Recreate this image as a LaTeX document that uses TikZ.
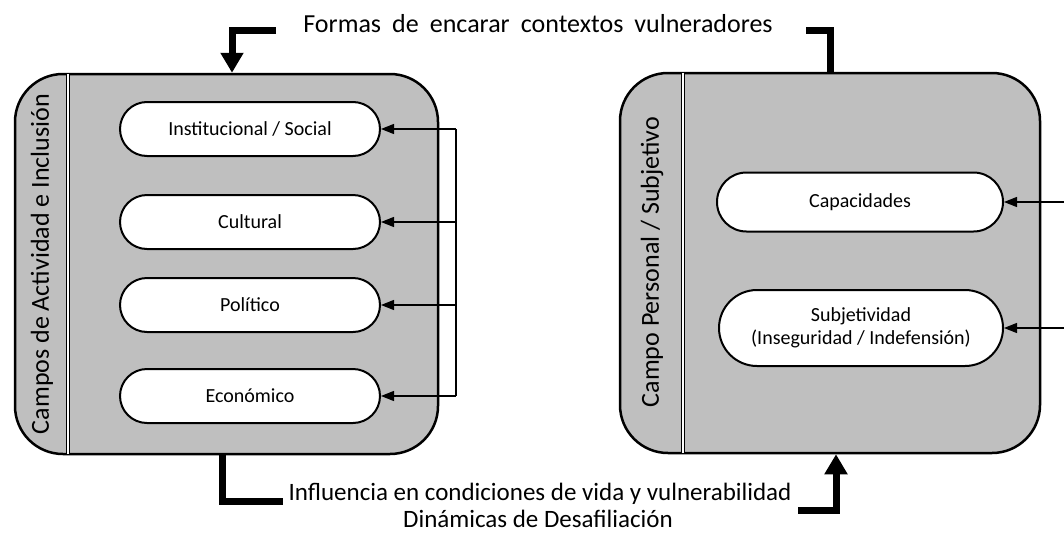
\documentclass[tikz,border=0pt]{standalone}
\usepackage{fontspec}
\setmainfont{Carlito}
\usetikzlibrary{arrows.meta,shapes.misc}
\begin{document}
\begin{tikzpicture}[x=1pt,y=-1pt,
  field/.style={draw=black, line width=2.5pt, fill=black!25, rounded corners=48pt, inner sep=0pt},
  pill/.style={rounded rectangle, draw=black, line width=2pt, fill=white, inner sep=2pt, align=center, font=\fontsize{20}{23}\selectfont},
  sidelabel/.style={rotate=90, font=\fontsize{26}{30}\selectfont},
  caption/.style={font=\fontsize{25}{29}\selectfont},
  sep/.style={draw=black, double=white, double distance=2.2pt, line width=0.9pt},
  link/.style={draw=black, line width=1.3pt, -{Triangle[length=13pt,width=10pt]}},
  bigL/.style={draw=black, line width=7pt},
  bigarrow/.style={bigL, -{Triangle[length=20pt,width=22pt]}}
]
\useasboundingbox (0,0) rectangle (1064,533);

% fields
\node[field, minimum width=423pt, minimum height=380pt] (L) at (226.5,264) {};
\node[field, minimum width=420pt, minimum height=380pt] (R) at (830,263) {};

% separators
\coordinate (sl) at (68,0);
\coordinate (sr) at (683,0);
\draw[sep] ([yshift=-1.2pt]sl |- L.north) -- ([yshift=1.2pt]sl |- L.south);
\draw[sep] ([yshift=-1.2pt]sr |- R.north) -- ([yshift=1.2pt]sr |- R.south);

% side labels
\node[sidelabel] (Llab) at (42,264) {Campos de Actividad e Inclusión};
\node[sidelabel] (Rlab) at (652,262) {Campo Personal / Subjetivo};

% pills left
\node[pill, minimum width=264pt, minimum height=54pt] (inst) at (250,129) {Institucional / Social};
\node[pill, minimum width=264pt, minimum height=54pt] (cult) at (250,222) {Cultural};
\node[pill, minimum width=264pt, minimum height=54pt] (pol) at (250,305) {Político};
\node[pill, minimum width=264pt, minimum height=54pt] (eco) at (250,396) {Económico};

% pills right
\node[pill, minimum width=290pt, minimum height=59pt] (cap) at (860,202) {Capacidades};
\node[pill, minimum width=288pt, minimum height=76pt] (subj) at (861,328) {Subjetividad\\(Inseguridad / Indefensión)};

% left bracket connectors
\coordinate (vx) at (456,0);
\draw[line width=1.3pt] (vx |- inst.east) -- (vx |- eco.east);
\draw[link] (vx |- inst.east) -- (inst.east);
\draw[link] (vx |- cult.east) -- (cult.east);
\draw[link] (vx |- pol.east) -- (pol.east);
\draw[link] (vx |- eco.east) -- (eco.east);

% right connectors from the edge
\coordinate (ex) at (1064,0);
\draw[link] (ex |- cap.east) -- (cap.east);
\draw[link] (ex |- subj.east) -- (subj.east);

% top caption and thick connectors
\node[font=\fontsize{26}{30}\selectfont] (top) at (538,24) {Formas\hspace{0.2em} de\hspace{0.2em} encarar\hspace{0.2em} contextos\hspace{0.2em} vulneradores};
\coordinate (tla) at (276,30);
\coordinate (tlb) at (232,30);
\draw[bigarrow] (tla) -- (tlb) -- (tlb |- L.north);
\coordinate (tra) at (806,30);
\coordinate (trb) at (830,30);
\draw[bigL] (tra) -- (trb) -- ([yshift=-1pt]trb |- R.north);

% bottom captions and thick connectors
\node[caption] (bot1) at (540,494) {Influencia en condiciones de vida y vulnerabilidad};
\node[caption] (bot2) at (538,519) {Dinámicas de Desafiliación};
\coordinate (bla) at (222,501);
\coordinate (blb) at (283,501);
\draw[bigL] ([yshift=1pt]bla |- L.south) -- (bla) -- (blb);
\coordinate (bra) at (798,510);
\coordinate (brb) at (836,510);
\draw[bigarrow] (bra) -- (brb) -- (brb |- R.south);
\end{tikzpicture}
\end{document}
